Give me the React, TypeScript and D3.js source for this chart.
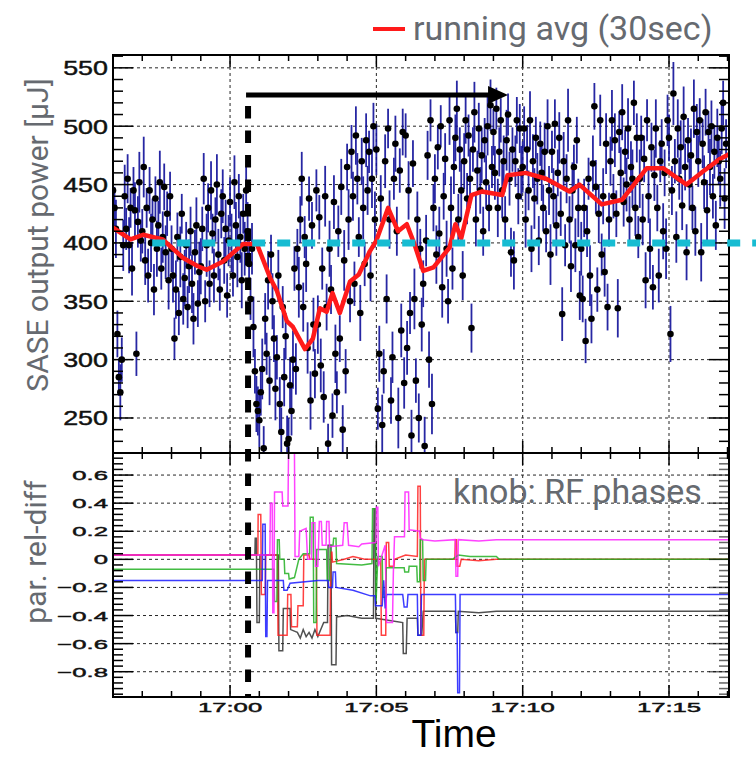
import React from 'react';
import * as d3 from 'd3';

const W = 756;
const H = 759;

// SASE output power (µJ), one sample every 3 s from 16:56 on (one row per minute)
const power = [
  445, 430, 412, 322, 285, 272, 300, 398, 440, 412, 455, 398, 430, 378, 445, 428, 305, 418, 452, 402,
  410, 465, 385, 430, 372, 445, 400, 420, 360, 438, 395, 415, 452, 378, 405, 448, 392, 425, 368, 440,
  395, 372, 318, 360, 405, 340, 388, 425, 352, 370, 398, 345, 380, 410, 365, 335, 392, 415, 348, 375,
  380, 412, 455, 350, 398, 430, 365, 445, 408, 372, 420, 450, 390, 360, 425, 440, 385, 412, 355, 402,
  435, 400, 372, 452, 415, 388, 440, 405, 368, 425, 395, 445, 410, 382, 352, 395, 328, 290, 262, 256,
  248, 272, 292, 224, 335, 305, 368, 282, 390, 350, 318, 275, 302, 372, 262, 238, 345, 285, 320, 228,
  232, 278, 256, 300, 378, 292, 395, 362, 420, 455, 345, 405, 382, 310, 438, 265, 415, 330, 288, 445,
  330, 422, 295, 378, 268, 440, 345, 228, 395, 360, 252, 435, 305, 272, 410, 318, 448, 240, 385, 290,
  465, 420, 350, 478, 440, 365, 492, 455, 405, 340, 470, 430, 382, 488, 445, 478, 372, 455, 500, 420,
  480, 258, 305, 438, 244, 290, 470, 352, 498, 420, 265, 302, 455, 485, 410, 250, 462, 325, 495, 280,
  492, 310, 445, 340, 235, 468, 352, 282, 420, 250, 395, 330, 365, 226, 402, 475, 300, 505, 262, 430,
  455, 390, 482, 408, 500, 362, 440, 472, 395, 350, 505, 430, 378, 465, 490, 515, 420, 480, 445, 372,
  470, 505, 438, 492, 455, 327, 480, 512, 420, 462, 498, 445, 475, 410, 488, 452, 500, 430, 518, 465,
  495, 460, 515, 430, 478, 505, 445, 470, 420, 488, 510, 455, 392, 480, 385, 470, 505, 440, 498, 460,
  465, 498, 420, 480, 445, 505, 395, 470, 438, 490, 455, 402, 485, 460, 430, 478, 410, 500, 445, 390,
  478, 440, 502, 415, 460, 490, 425, 339, 470, 398, 455, 505, 420, 380, 445, 465, 398, 488, 430, 355,
  395, 352, 430, 316, 410, 455, 372, 335, 468, 517, 448, 360, 425, 505, 390, 440, 375, 485, 345, 420,
  470, 505, 440, 488, 425, 344, 495, 460, 512, 435, 478, 450, 498, 420, 465, 455, 520, 430, 490, 405,
  455, 490, 420, 472, 368, 505, 440, 395, 482, 362, 458, 498, 430, 372, 470, 485, 410, 460, 395, 505,
  490, 322, 445, 528, 470, 405, 498, 455, 482, 432, 508, 465, 392, 488, 450, 475, 430, 515, 410, 495,
  470, 505, 392, 485, 452, 512, 428, 495, 465, 500, 440, 478, 415, 490, 470, 455, 498, 520, 438, 485,
];

// error bar half-widths (µJ), same order as power
const powerErr = [
  22, 18, 25, 20, 16, 24, 19, 22, 27, 18, 21, 24, 17, 23, 20, 24, 19, 22, 26, 18,
  19, 26, 21, 17, 23, 20, 25, 18, 22, 19, 24, 21, 27, 18, 22, 20, 23, 19, 25, 21,
  20, 23, 18, 25, 21, 19, 26, 17, 22, 24, 20, 18, 23, 21, 25, 22, 19, 24, 20, 26,
  24, 19, 22, 18, 27, 21, 20, 25, 17, 23, 19, 26, 22, 18, 21, 23, 20, 25, 19, 22,
  21, 25, 18, 23, 20, 26, 19, 22, 24, 17, 23, 20, 25, 21, 18, 22, 26, 19, 24, 21,
  23, 20, 26, 19, 22, 18, 25, 21, 17, 24, 20, 27, 19, 22, 23, 21, 18, 25, 20, 24,
  18, 24, 21, 25, 19, 22, 17, 26, 20, 23, 21, 18, 24, 22, 19, 25, 20, 23, 21, 18,
  25, 19, 23, 18, 22, 26, 20, 17, 24, 21, 19, 23, 25, 18, 22, 20, 24, 21, 26, 19,
  20, 26, 18, 23, 21, 19, 25, 22, 17, 24, 20, 27, 19, 23, 21, 18, 22, 25, 20, 24,
  22, 18, 24, 20, 26, 19, 23, 21, 17, 25, 20, 22, 18, 24, 21, 26, 19, 23, 20, 22,
  19, 23, 25, 18, 22, 20, 26, 19, 24, 21, 17, 23, 20, 25, 22, 21, 24, 18, 26, 20,
  21, 25, 19, 23, 18, 26, 20, 22, 24, 19, 21, 27, 18, 23, 20, 24, 22, 19, 25, 21,
  24, 20, 22, 18, 25, 21, 19, 26, 23, 17, 22, 20, 24, 21, 19, 23, 25, 20, 22, 18,
  20, 23, 18, 25, 21, 19, 24, 22, 20, 26, 18, 23, 21, 19, 25, 22, 20, 24, 21, 23,
  22, 19, 24, 21, 17, 25, 20, 23, 26, 18, 22, 21, 19, 24, 20, 25, 18, 23, 21, 26,
  18, 24, 21, 26, 20, 22, 19, 23, 25, 18, 21, 27, 20, 22, 24, 19, 23, 20, 25, 21,
  23, 20, 25, 19, 22, 18, 26, 21, 24, 20, 23, 19, 25, 22, 18, 24, 21, 26, 20, 23,
  21, 26, 19, 23, 20, 25, 18, 22, 24, 21, 19, 23, 26, 20, 22, 25, 19, 24, 21, 18,
  25, 19, 22, 20, 24, 18, 23, 26, 21, 19, 22, 25, 20, 23, 18, 21, 24, 20, 26, 22,
  20, 24, 21, 27, 19, 22, 25, 18, 23, 21, 26, 20, 24, 19, 22, 23, 19, 25, 21, 24,
  22, 19, 25, 21, 23, 20, 26, 18, 24, 22, 19, 23, 21, 25, 20, 24, 22, 19, 26, 21,
];
const sampleStartMin = -4; // minutes relative to 17:00
const sampleStepMin = 3 / 60;

// running avg (30sec): [minutes rel. to 17:00, µJ]
const runningAvg: [number, number][] = [
  [-4.0, 413], [-3.4, 403], [-2.97, 407], [-2.3, 403], [-1.6, 387], [-1.1, 380],
  [-0.8, 377], [-0.24, 384], [0.44, 399], [0.92, 399], [1.37, 370], [1.6, 359],
  [1.94, 333], [2.15, 328], [2.56, 309], [2.83, 318], [3.07, 344], [3.3, 341],
  [3.5, 357], [3.75, 340], [4.1, 367], [4.4, 373], [4.78, 393], [5.0, 402],
  [5.4, 430], [5.74, 410], [6.04, 416], [6.3, 399], [6.6, 376], [6.95, 379],
  [7.5, 396], [7.7, 416], [7.9, 404], [8.25, 441], [8.6, 444], [9.3, 441],
  [9.48, 458], [10.1, 460], [10.8, 455], [11.6, 444], [11.94, 450], [12.7, 433],
  [13.4, 437], [14.24, 464], [14.8, 464], [15.6, 450], [16.15, 461], [16.74, 472],
  [17.05, 476],
];

// knob parameters, relative difference: [minutes rel. to 17:00, value]
const relDiffBlack: [number, number][] = [
  [-4, 0.03], [0.85, 0.03], [0.86, 0.15], [0.9, 0.15], [0.92, -0.45], [1.0, -0.45],
  [1.02, 0.03], [1.65, 0.03], [1.67, -0.65], [1.8, -0.65], [1.82, -0.35], [2.05, -0.35],
  [2.07, -0.5], [2.3, -0.52], [2.4, -0.56], [2.5, -0.5], [2.6, -0.55], [2.7, -0.52],
  [2.8, -0.56], [2.9, -0.5], [3.0, -0.55], [3.1, -0.5], [3.2, -0.45], [3.33, -0.45],
  [3.35, 0.1], [3.45, 0.1], [3.47, -0.75], [3.62, -0.75], [3.64, -0.41], [4.0, -0.4],
  [4.5, -0.42], [4.9, -0.42], [4.92, 0.36], [4.96, 0.36], [4.98, -0.42], [5.9, -0.45],
  [5.92, -0.67], [6.02, -0.67], [6.05, -0.42], [6.4, -0.42], [6.42, -0.54], [6.55, -0.54],
  [6.6, -0.37], [7.7, -0.37], [7.72, -0.52], [7.78, -0.52], [7.8, -0.37], [8.5, -0.38],
  [9.1, -0.37], [17.05, -0.37],
];
const relDiffRed: [number, number][] = [
  [-4, 0.03], [0.95, 0.03], [0.96, 0.32], [1.05, 0.32], [1.07, -0.25], [1.2, -0.25],
  [1.22, 0.03], [1.62, 0.03], [1.64, -0.54], [1.95, -0.54], [1.97, -0.25], [2.08, -0.25],
  [2.1, -0.48], [2.3, -0.48], [2.32, -0.33], [2.5, -0.33], [2.52, 0.03], [2.7, 0.03],
  [2.72, 0.0], [2.95, 0.0], [2.97, -0.54], [3.42, -0.54], [3.44, 0.05], [3.48, 0.05],
  [3.5, -0.02], [3.9, 0.0], [4.2, 0.02], [4.6, 0.0], [5.15, 0.0], [5.17, -0.54],
  [5.32, -0.54], [5.34, 0.12], [5.42, 0.12], [5.44, -0.05], [5.6, -0.05], [5.62, 0.0],
  [6.0, 0.03], [6.4, 0.02], [6.42, 0.52], [6.5, 0.52], [6.52, -0.54], [6.62, -0.54],
  [6.64, 0.0], [7.68, 0.0], [7.7, 0.14], [7.74, 0.14], [7.76, -0.05], [7.85, -0.05],
  [7.9, 0.0], [8.5, -0.01], [9.1, 0.0], [17.05, 0.0],
];
const relDiffGreen: [number, number][] = [
  [-4, -0.07], [1.5, -0.07], [1.52, -0.3], [1.6, -0.3], [1.62, 0.14], [1.68, 0.14],
  [1.7, 0.0], [1.85, 0.0], [1.87, -0.1], [2.0, -0.1], [2.02, -0.14], [2.2, -0.13],
  [2.35, 0.0], [2.5, 0.04], [2.72, 0.04], [2.74, 0.3], [2.84, 0.3], [2.86, -0.45],
  [2.94, -0.45], [2.96, 0.07], [3.3, 0.07], [3.32, -0.15], [3.4, -0.15], [3.42, 0.1],
  [3.52, 0.1], [3.54, 0.15], [3.62, 0.15], [3.64, -0.03], [4.5, -0.04], [4.85, -0.03],
  [4.87, 0.36], [4.97, 0.36], [4.99, -0.3], [5.05, 0.02], [5.2, 0.02], [5.22, -0.27],
  [5.32, -0.27], [5.34, -0.06], [5.95, -0.06], [5.97, -0.09], [6.1, -0.09], [6.12, -0.05],
  [6.38, -0.05], [6.4, -0.16], [6.48, -0.16], [6.5, 0.14], [6.58, 0.14], [6.6, -0.15],
  [6.68, -0.15], [6.7, 0.0], [7.6, 0.0], [7.8, 0.03], [8.2, 0.02], [9.1, 0.02],
  [9.2, 0.0], [17.05, 0.0],
];
const relDiffBlue: [number, number][] = [
  [-4, -0.15], [1.1, -0.15], [1.12, 0.25], [1.2, 0.25], [1.22, -0.55], [1.26, -0.55],
  [1.28, -0.15], [1.82, -0.15], [1.84, -0.22], [1.95, -0.22], [2.05, -0.17], [3.0, -0.15],
  [3.35, -0.15], [3.37, -0.2], [3.5, -0.2], [3.52, -0.09], [3.6, -0.09], [3.62, -0.2],
  [4.2, -0.22], [4.8, -0.26], [4.95, -0.26], [4.97, -0.33], [5.2, -0.33], [5.25, -0.15],
  [5.3, -0.35], [5.35, -0.25], [5.9, -0.25], [5.95, -0.34], [6.05, -0.34], [6.08, -0.25],
  [6.4, -0.25], [6.42, -0.54], [6.52, -0.54], [6.54, -0.25], [7.7, -0.25], [7.72, -0.52],
  [7.76, -0.52], [7.78, -0.95], [7.84, -0.95], [7.86, -0.25], [17.05, -0.25],
];
const relDiffMagenta: [number, number][] = [
  [-4, 0.03], [1.36, 0.03], [1.38, 0.4], [1.44, 0.4], [1.46, -0.38], [1.5, -0.38],
  [1.52, 0.48], [1.78, 0.48], [1.8, 0.38], [1.98, 0.38], [2.0, 0.8], [2.2, 0.8],
  [2.22, 0.02], [2.35, 0.02], [2.38, 0.2], [2.6, 0.22], [2.65, 0.0], [2.78, 0.0],
  [2.8, 0.26], [2.9, 0.26], [2.92, -0.05], [3.0, -0.05], [3.05, 0.27], [3.12, 0.27],
  [3.15, 0.1], [3.28, 0.1], [3.3, 0.27], [3.38, 0.27], [3.4, 0.09], [3.85, 0.1],
  [3.9, 0.26], [4.0, 0.26], [4.05, 0.1], [4.4, 0.09], [4.5, 0.11], [4.98, 0.12],
  [5.0, 0.37], [5.05, 0.37], [5.07, -0.05], [5.3, 0.1], [5.35, -0.45], [5.55, -0.45],
  [5.58, -0.1], [5.62, 0.16], [5.96, 0.16], [5.98, 0.48], [6.1, 0.48], [6.12, 0.21],
  [6.48, 0.2], [6.5, 0.15], [6.6, 0.14], [7.0, 0.13], [7.7, 0.14], [7.72, -0.12],
  [7.78, -0.12], [7.8, 0.14], [8.5, 0.13], [9.1, 0.14], [17.05, 0.14],
];

const timeTicks = [0, 5, 10, 15];
const timeLabels = ['17:00', '17:05', '17:10', '17:15'];
const powerTicks = [250, 300, 350, 400, 450, 500, 550];
const relDiffTicks = [-0.8, -0.6, -0.4, -0.2, 0, 0.2, 0.4, 0.6];

const knobStartMin = 0.615; // vertical marker
const arrowEndMin = 9.5;
const refLevel = 400;
const refStartMin = -2.66;

export default function App() {
  const left = 113, right = 729;
  const topY0 = 55, midY = 453, botY1 = 697;

  const x = d3.scaleLinear().domain([-4, 17.05]).range([left, right]);
  const yTop = d3.scaleLinear().domain([220, 561]).range([midY, topY0]);
  const yBot = d3.scaleLinear().domain([-0.98, 0.757]).range([botY1, midY]);

  const points = power.map((p, i) => ({ t: sampleStartMin + i * sampleStepMin, p, e: powerErr[i] }));

  const avgLine = d3.line<[number, number]>().x(d => x(d[0])).y(d => yTop(d[1]));
  const diffLine = d3.line<[number, number]>().x(d => x(d[0])).y(d => yBot(d[1]));

  const minorT = d3.range(-4, 17.01, 1);
  const minorP = d3.range(230, 561, 10);
  const minorR = d3.range(-0.96, 0.75, 0.04);

  const relFmt = (v: number) => (Math.abs(v) < 1e-9 ? '0' : d3.format('.1f')(v).replace('-', '\u2212'));

  const tickFont = "'Liberation Sans', Arial, sans-serif";
  const titleFont = "Roboto, 'Noto Sans', sans-serif";
  const titleColor = '#666a70';

  const series = [
    { d: relDiffBlack, c: '#333333' },
    { d: relDiffRed, c: '#ff2020' },
    { d: relDiffGreen, c: '#22b022' },
    { d: relDiffBlue, c: '#1a1aff' },
    { d: relDiffMagenta, c: '#ff22ff' },
  ];

  const xm = x(knobStartMin);

  return (
    <svg width={W} height={H} style={{ position: 'absolute', left: 0, top: 0, background: '#fff' }}>
      <defs>
        <clipPath id="clipTop"><rect x={left} y={topY0} width={right - left} height={midY - topY0} /></clipPath>
        <clipPath id="clipBot"><rect x={left} y={midY} width={right - left} height={botY1 - midY} /></clipPath>
      </defs>

      {/* grids */}
      <g stroke="#000" strokeWidth={1} strokeDasharray="3 3" opacity={0.85}>
        {powerTicks.map(v => <line key={'gp' + v} x1={left} x2={right} y1={yTop(v)} y2={yTop(v)} />)}
        {relDiffTicks.map(v => <line key={'gr' + v} x1={left} x2={right} y1={yBot(v)} y2={yBot(v)} />)}
        {timeTicks.map(t => <line key={'gt' + t} x1={x(t)} x2={x(t)} y1={topY0} y2={botY1} />)}
      </g>

      {/* scatter with error bars */}
      <g clipPath="url(#clipTop)">
        <g stroke="#10109a" strokeWidth={1.8} opacity={0.9}>
          {points.map((d, i) => (
            <line key={'e' + i} x1={x(d.t)} x2={x(d.t)} y1={yTop(d.p - d.e)} y2={yTop(d.p + d.e)} />
          ))}
        </g>
        <g fill="#000">
          {points.map((d, i) => <circle key={'c' + i} cx={x(d.t)} cy={yTop(d.p)} r={3.3} />)}
        </g>
        <path d={avgLine(runningAvg) || ''} fill="none" stroke="#ff1a1a" strokeWidth={4.5} strokeLinejoin="round" />
      </g>

      {/* knob lines */}
      <g clipPath="url(#clipBot)" fill="none" strokeWidth={1.5}>
        {series.map((s, i) => <path key={'s' + i} d={diffLine(s.d) || ''} stroke={s.c} opacity={0.85} />)}
      </g>

      {/* frames */}
      <rect x={left} y={topY0} width={right - left} height={midY - topY0} fill="none" stroke="#000" strokeWidth={2} />
      <rect x={left} y={midY} width={right - left} height={botY1 - midY} fill="none" stroke="#000" strokeWidth={2} />

      {/* ticks */}
      <g stroke="#000" strokeWidth={1.5}>
        {minorP.map(v => {
          const major = v % 50 === 0;
          const L = major ? 20 : 10;
          return (
            <g key={'tp' + v}>
              <line x1={left} x2={left + L} y1={yTop(v)} y2={yTop(v)} />
              <line x1={right} x2={right - L} y1={yTop(v)} y2={yTop(v)} />
            </g>
          );
        })}
        {minorR.map((v, i) => {
          const major = relDiffTicks.some(m => Math.abs(m - v) < 1e-6);
          const L = major ? 20 : 10;
          return (
            <g key={'tr' + i}>
              <line x1={left} x2={left + L} y1={yBot(v)} y2={yBot(v)} />
              <line x1={right} x2={right - L} y1={yBot(v)} y2={yBot(v)} opacity={0.6} />
            </g>
          );
        })}
        {minorT.map(t => {
          const L = t % 5 === 0 ? 12 : 6;
          return (
            <g key={'tt' + t}>
              <line x1={x(t)} x2={x(t)} y1={topY0} y2={topY0 + L} />
              <line x1={x(t)} x2={x(t)} y1={midY} y2={midY - L} />
              <line x1={x(t)} x2={x(t)} y1={midY} y2={midY + L} />
              <line x1={x(t)} x2={x(t)} y1={botY1} y2={botY1 - L} />
            </g>
          );
        })}
      </g>

      {/* tick labels */}
      <g fontFamily={tickFont} fill="#111" stroke="#111" strokeWidth={0.45}>
        {powerTicks.map(v => (
          <text key={'lp' + v} transform={`translate(108,${yTop(v) + 7.5}) scale(1.28,1)`} textAnchor="end" fontSize={21}>{v}</text>
        ))}
        {relDiffTicks.map(v => (
          <text key={'lr' + v} transform={`translate(108,${yBot(v) + 5}) scale(1.9,1)`} textAnchor="end" fontSize={13.5}>{relFmt(v)}</text>
        ))}
        {timeTicks.map((t, i) => (
          <text key={'lt' + t} transform={`translate(${x(t)},${botY1 + 14.5}) scale(1.9,1)`} textAnchor="middle" fontSize={13.5}>{timeLabels[i]}</text>
        ))}
      </g>

      {/* axis titles */}
      <text transform={`translate(48,${(topY0 + 415) / 2}) rotate(-90)`} textAnchor="middle" fontFamily={titleFont} fontSize={30} fill={titleColor}>SASE output power [µJ]</text>
      <text transform={`translate(46,552) rotate(-90)`} textAnchor="middle" fontFamily={titleFont} fontSize={30} fill={titleColor}>par. rel-diff</text>
      <text x={454} y={747} textAnchor="middle" fontFamily="'Liberation Sans', Arial, sans-serif" fontSize={39} fill="#000">Time</text>

      {/* legend */}
      <line x1={373} x2={405} y1={29} y2={29} stroke="#ff1a1a" strokeWidth={4} />
      <text x={413} y={40} fontFamily={titleFont} fontSize={34} fill={titleColor}>running avg (30sec)</text>
      <text x={453} y={503} fontFamily={titleFont} fontSize={34} fill={titleColor}>knob: RF phases</text>

      {/* annotations */}
      <line x1={x(refStartMin)} x2={W} y1={yTop(refLevel)} y2={yTop(refLevel)} stroke="#17bcd2" strokeWidth={7} strokeDasharray="13 12" />
      <line x1={xm} x2={xm} y1={106} y2={botY1} stroke="#000" strokeWidth={6} strokeDasharray="12.5 12" />
      <line x1={xm - 2} x2={x(arrowEndMin) - 18} y1={95} y2={95} stroke="#000" strokeWidth={5} />
      <polygon points={`${x(arrowEndMin) - 20},86 ${x(arrowEndMin)},95 ${x(arrowEndMin) - 20},104`} fill="#000" />
    </svg>
  );
}
